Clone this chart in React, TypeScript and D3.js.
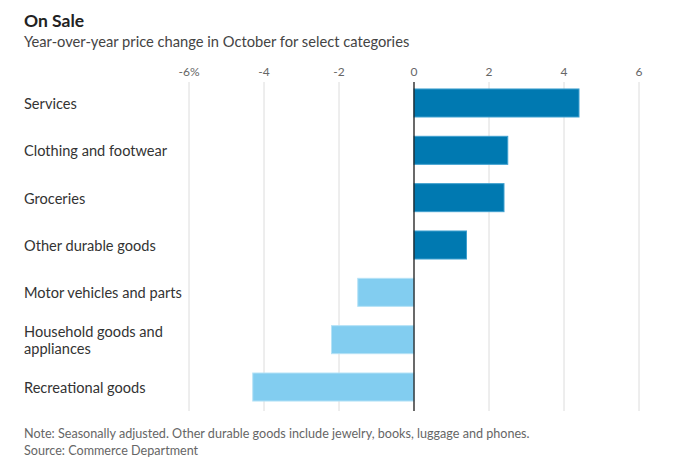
import React from "react";
import * as d3 from "d3";

const categories = [
  "Services",
  "Clothing and footwear",
  "Groceries",
  "Other durable goods",
  "Motor vehicles and parts",
  "Household goods and appliances",
  "Recreational goods",
];
const values = [4.4, 2.5, 2.4, 1.4, -1.5, -2.2, -4.3];
const tickValues = [-6, -4, -2, 0, 2, 4, 6];
const tickLabels = ["-6%", "-4", "-2", "0", "2", "4", "6"];
const labelLines: Record<string, string[]> = {
  "Household goods and appliances": ["Household goods and", "appliances"],
};

const W = 697;
const H = 470;
const FONT = "Lato, 'Noto Sans', sans-serif";

export default function App() {
  const x = d3.scaleLinear().domain([-6, 6]).range([189, 639]);
  const y = d3.scaleBand<string>().domain(categories).range([79.5, 410.5]).paddingInner(0.408).paddingOuter(0.2);
  const gridTop = 82;
  const gridBottom = 411;
  return (
    <svg width={W} height={H} style={{ position: "absolute", left: 0, top: 0, background: "#fff" }} fontFamily={FONT}>
      <text x={24} y={27} fontSize={17.5} fontWeight={700} fill="#222">On Sale</text>
      <text x={24} y={47} fontSize={14.7} fill="#444">Year-over-year price change in October for select categories</text>
      {tickValues.map((t, i) => (
        <g key={t}>
          <line x1={x(t)} x2={x(t)} y1={gridTop} y2={gridBottom} stroke="#dcdcdc" strokeWidth={1} />
          <text x={x(t)} y={76} textAnchor="middle" fontSize={12} fill="#666">{tickLabels[i]}</text>
        </g>
      ))}
      {categories.map((c, i) => {
        const v = values[i];
        const x0 = x(Math.min(0, v));
        const x1 = x(Math.max(0, v));
        const yy = y(c)!;
        const bh = y.bandwidth();
        const lines = labelLines[c] || [c];
        const cy = yy + bh / 2;
        return (
          <g key={c}>
            <rect x={x0} y={yy} width={x1 - x0} height={bh}
              fill={v >= 0 ? "#0079b1" : "#82cdf0"}
              stroke={v >= 0 ? "#3fa0cf" : "#b5e2f6"} strokeWidth={1} />
            {lines.map((l, j) => (
              <text key={j} x={24} y={cy + 6 + (j - (lines.length - 1) / 2) * 17} fontSize={14.6} fill="#333">{l}</text>
            ))}
          </g>
        );
      })}
      <line x1={x(0)} x2={x(0)} y1={gridTop} y2={gridBottom} stroke="#111" strokeWidth={1.2} />
      <text x={24} y={438} fontSize={12.6} fill="#666">Note: Seasonally adjusted. Other durable goods include jewelry, books, luggage and phones.</text>
      <text x={24} y={455} fontSize={12.6} fill="#666">Source: Commerce Department</text>
    </svg>
  );
}
